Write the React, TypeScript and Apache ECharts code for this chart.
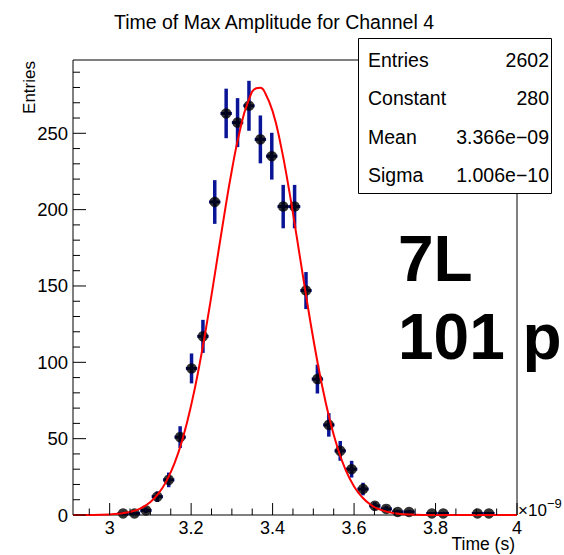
import React, { useEffect, useRef } from 'react';
import * as echarts from 'echarts';

// ---- texts ----
const chartTitle = 'Time of Max Amplitude for Channel 4';
const xAxisTitle = 'Time (s)';
const yAxisTitle = 'Entries';
const xExponentBase = '×10';
const xExponentPower = '−9';
const statLabels = ['Entries', 'Constant', 'Mean', 'Sigma'];
const statValues = ['2602', '280', '3.366e−09', '1.006e−10'];
const overlayLines = ['7L', '101 p'];

// ---- axes (time in units of 1e-9 s) ----
const xRange = [2.91, 4.0];
const yRange = [0, 298];
const xMajorTicks = [3.0, 3.2, 3.4, 3.6, 3.8, 4.0];
const xTickLabels = ['3', '3.2', '3.4', '3.6', '3.8', '4'];
const xMinorTicks = [2.95, 3.05, 3.1, 3.15, 3.25, 3.3, 3.35, 3.45, 3.5, 3.55, 3.65, 3.7, 3.75, 3.85, 3.9, 3.95];
const yMajorTicks = [0, 50, 100, 150, 200, 250];
const yTickLabels = ['0', '50', '100', '150', '200', '250'];
const yMinorTicks = [10, 20, 30, 40, 60, 70, 80, 90, 110, 120, 130, 140, 160, 170, 180, 190, 210, 220, 230, 240, 260, 270, 280, 290];

// ---- histogram (non-empty bins) ----
const binWidth = 0.028;
const binTimes = [3.033, 3.061, 3.089, 3.117, 3.145, 3.173, 3.201, 3.229, 3.258, 3.286, 3.314, 3.342, 3.370, 3.398, 3.426, 3.454, 3.482, 3.510, 3.538, 3.566, 3.594, 3.622, 3.651, 3.679, 3.707, 3.735, 3.791, 3.819, 3.903, 3.931];
const binEntries = [1, 1, 3, 12, 23, 51, 96, 117, 205, 263, 257, 268, 246, 235, 202, 202, 147, 89, 59, 42, 30, 17, 6, 4, 2, 2, 1, 1, 1, 1];
const binErrors = [1, 1, 1.73, 3.46, 4.8, 7.14, 9.8, 10.82, 14.32, 16.22, 16.03, 16.37, 15.68, 15.33, 14.21, 14.21, 12.12, 9.43, 7.68, 6.48, 5.48, 4.12, 2.45, 2, 1.41, 1.41, 1, 1, 1, 1];

// ---- gaussian fit curve ----
const fitTimes = [2.91, 2.95, 3.0, 3.05, 3.08, 3.1, 3.12, 3.14, 3.16, 3.18, 3.2, 3.22, 3.24, 3.26, 3.28, 3.3, 3.32, 3.34, 3.36, 3.37, 3.38, 3.4, 3.42, 3.44, 3.46, 3.48, 3.5, 3.52, 3.54, 3.56, 3.58, 3.6, 3.62, 3.64, 3.66, 3.7, 3.75, 3.8, 3.9, 4.0];
const fitValues = [0.01, 0.05, 0.37, 2.0, 4.9, 8.5, 14.1, 22.5, 34.4, 50.7, 71.8, 97.7, 127.8, 160.7, 194.3, 225.8, 252.2, 270.8, 279.5, 279.8, 277.3, 264.5, 242.4, 213.6, 181.0, 147.3, 115.3, 86.7, 62.7, 43.6, 29.1, 18.7, 11.6, 6.9, 3.9, 1.1, 0.19, 0.03, 0, 0];

const FONT = '"Liberation Sans", Arial, Helvetica, sans-serif';

function tickSeries(values: number[], axis: 'x' | 'y', len: number, labels?: string[]) {
  return {
    type: 'custom',
    coordinateSystem: 'cartesian2d',
    silent: true,
    z: 6,
    data: values.map((v) => (axis === 'x' ? [v, yRange[0]] : [xRange[0], v])),
    renderItem: (params: any, api: any) => {
      const p = api.coord([api.value(0), api.value(1)]);
      const children: any[] = [];
      if (axis === 'x') {
        children.push({ type: 'line', shape: { x1: p[0], y1: p[1], x2: p[0], y2: p[1] - len }, style: { stroke: '#000', lineWidth: 1 } });
        if (labels) {
          children.push({ type: 'text', x: p[0], y: p[1] + 13, style: { text: labels[params.dataIndex], fill: '#000', font: `18px ${FONT}`, align: 'center', verticalAlign: 'middle' } });
        }
      } else {
        children.push({ type: 'line', shape: { x1: p[0], y1: p[1], x2: p[0] + len, y2: p[1] }, style: { stroke: '#000', lineWidth: 1 } });
        if (labels) {
          children.push({ type: 'text', x: p[0] - 5, y: p[1], style: { text: labels[params.dataIndex], fill: '#000', font: `18.5px ${FONT}`, align: 'right', verticalAlign: 'middle' } });
        }
      }
      return { type: 'group', children };
    },
  };
}

export default function App() {
  const ref = useRef<HTMLDivElement>(null);
  useEffect(() => {
    if (!ref.current) return;
    const chart = echarts.init(ref.current, null, { renderer: 'svg' });
    const rowY = [59.7, 98.3, 136.7, 175.3];
    const statTexts: any[] = [];
    statLabels.forEach((s, i) => {
      statTexts.push({ type: 'text', z: 11, x: 368, y: rowY[i], style: { text: s, fill: '#000', font: `19.5px ${FONT}`, align: 'left', verticalAlign: 'middle' } });
      statTexts.push({ type: 'text', z: 11, x: 549, y: rowY[i], style: { text: statValues[i], fill: '#000', font: `19.5px ${FONT}`, align: 'right', verticalAlign: 'middle' } });
    });
    chart.setOption({
      animation: false,
      backgroundColor: '#fff',
      grid: { left: 73, right: 47, top: 60, bottom: 40, show: true, borderColor: '#000', borderWidth: 1, backgroundColor: 'transparent' },
      xAxis: { type: 'value', min: xRange[0], max: xRange[1], axisLine: { show: false }, axisTick: { show: false }, axisLabel: { show: false }, splitLine: { show: false } },
      yAxis: { type: 'value', min: yRange[0], max: yRange[1], axisLine: { show: false }, axisTick: { show: false }, axisLabel: { show: false }, splitLine: { show: false } },
      series: [
        {
          type: 'custom',
          coordinateSystem: 'cartesian2d',
          silent: true,
          z: 2,
          data: binTimes.map((t, i) => [t, binEntries[i], binErrors[i]]),
          renderItem: (params: any, api: any) => {
            const t = api.value(0);
            const v = api.value(1);
            const e = api.value(2);
            const top = api.coord([t, v + e]);
            const bot = api.coord([t, v - e]);
            const l = api.coord([t - binWidth / 2, v]);
            const r = api.coord([t + binWidth / 2, v]);
            return {
              type: 'group',
              children: [
                { type: 'line', shape: { x1: top[0], y1: top[1], x2: bot[0], y2: bot[1] }, style: { stroke: '#0a1496', lineWidth: 3.5 } },
                { type: 'line', shape: { x1: l[0], y1: l[1], x2: r[0], y2: r[1] }, style: { stroke: '#0a1496', lineWidth: 3 } },
              ],
            };
          },
        },
        {
          type: 'scatter',
          z: 3,
          symbol: 'circle',
          symbolSize: 10.5,
          itemStyle: { color: '#000' },
          data: binTimes.map((t, i) => [t, binEntries[i]]),
        },
        {
          type: 'line',
          z: 4,
          showSymbol: false,
          smooth: true,
          clip: false,
          lineStyle: { color: '#ff0000', width: 2 },
          data: fitTimes.map((t, i) => [t, fitValues[i]]),
        },
        tickSeries(xMajorTicks, 'x', 12, xTickLabels),
        tickSeries(xMinorTicks, 'x', 6.5),
        tickSeries(yMajorTicks, 'y', 13, yTickLabels),
        tickSeries(yMinorTicks, 'y', 7),
      ],
      graphic: [
        { type: 'text', x: 274, y: 21.5, style: { text: chartTitle, fill: '#000', font: `19.5px ${FONT}`, align: 'center', verticalAlign: 'middle' } },
        { type: 'text', x: 29, y: 61, rotation: Math.PI / 2, style: { text: yAxisTitle, fill: '#000', font: `17px ${FONT}`, align: 'right', verticalAlign: 'middle' } },
        { type: 'text', x: 515, y: 544, style: { text: xAxisTitle, fill: '#000', font: `17.5px ${FONT}`, align: 'right', verticalAlign: 'middle' } },
        { type: 'text', x: 518, y: 510, style: { text: xExponentBase, fill: '#000', font: `17px ${FONT}`, align: 'left', verticalAlign: 'middle' } },
        { type: 'text', x: 547, y: 503, style: { text: xExponentPower, fill: '#000', font: `13px ${FONT}`, align: 'left', verticalAlign: 'middle' } },
        { type: 'rect', z: 10, shape: { x: 358.5, y: 38.5, width: 193, height: 155 }, style: { fill: '#fff', stroke: '#000', lineWidth: 1 } },
        ...statTexts,
        { type: 'text', z: 12, x: 398, y: 259, style: { text: overlayLines[0], fill: '#000', font: `bold 64px ${FONT}`, align: 'left', verticalAlign: 'middle' } },
        { type: 'text', z: 12, x: 398, y: 337, style: { text: overlayLines[1], fill: '#000', font: `bold 64px ${FONT}`, align: 'left', verticalAlign: 'middle' } },
      ],
    });
    return () => chart.dispose();
  }, []);
  return <div ref={ref} style={{ position: 'fixed', left: 0, top: 0, width: 564, height: 555, background: '#fff' }} />;
}
